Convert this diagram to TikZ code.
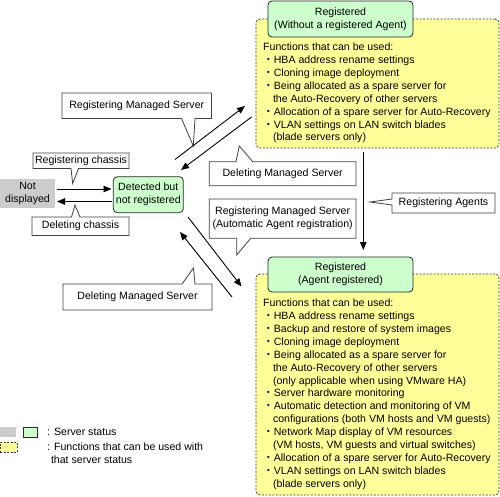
\documentclass[tikz,border=0pt]{standalone}
\usepackage{fontspec}
\setmainfont{Liberation Sans}
\newfontfamily\cjkfont{Noto Sans CJK JP}
\usetikzlibrary{arrows.meta}
\newcommand{\bul}{{\cjkfont ・}}
\newcommand{\ind}{\hspace*{9.8pt}}
\definecolor{stgreen}{RGB}{204,255,204}
\definecolor{stgray}{RGB}{204,204,204}
\definecolor{fyel}{RGB}{255,255,153}
\definecolor{cbord}{RGB}{64,64,64}
\definecolor{gbord}{RGB}{40,40,40}
\definecolor{fbord}{RGB}{60,60,60}
\begin{document}
\begin{tikzpicture}[x=1pt,y=-1pt,
  every node/.style={font=\fontsize{10.6}{12.9}\selectfont, inner sep=0pt},
  list/.style={align=left, anchor=north west},
  callshape/.style={draw=cbord, fill=white, line width=0.8pt, line join=miter},
  statebox/.style={draw=gbord, fill=stgreen, rounded corners=4pt, line width=0.8pt, align=center},
  graybox/.style={fill=stgray, align=center},
  funcbox/.style={draw=fbord, fill=fyel, rounded corners=4pt, dash pattern=on 2pt off 1.5pt, line width=0.8pt},
  flow/.style={-{Triangle[length=8pt,width=6.5pt]}, line width=0.9pt, draw=black}]
\useasboundingbox (0,0) rectangle (500,496);

% function boxes
\node[funcbox, minimum width=243, minimum height=129] (funA) at (377.5,83.5) {};
\node[funcbox, minimum width=243, minimum height=221] (funB) at (377.5,384.5) {};

% state boxes
\node[statebox, minimum width=145, minimum height=36] (regA) at (340.5,19) {Registered\\(Without a registered Agent)};
\node[statebox, minimum width=145, minimum height=35] (regB) at (340.5,274.5) {Registered\\(Agent registered)};
\node[statebox, minimum width=70, minimum height=36] (det) at (148.3,194.7) {Detected but\\not registered};
\node[graybox, minimum width=55, minimum height=29] (nd) at (27.5,193.5) {Not\\displayed};

% lists
\node[list] (lsA) at (263,42.8) {Functions that can be used:\\
\bul HBA address rename settings\\
\bul Cloning image deployment\\
\bul Being allocated as a spare server for\\
\ind the Auto-Recovery of other servers\\
\bul Allocation of a spare server for Auto-Recovery\\
\bul VLAN settings on LAN switch blades\\
\ind (blade servers only)};

\node[list] (lsB) at (263,298.8) {Functions that can be used:\\
\bul HBA address rename settings\\
\bul Backup and restore of system images\\
\bul Cloning image deployment\\
\bul Being allocated as a spare server for\\
\ind the Auto-Recovery of other servers\\
\ind (only applicable when using VMware HA)\\
\bul Server hardware monitoring\\
\bul Automatic detection and monitoring of VM\\
\ind configurations (both VM hosts and VM guests)\\
\bul Network Map display of VM resources\\
\ind (VM hosts, VM guests and virtual switches)\\
\bul Allocation of a spare server for Auto-Recovery\\
\bul VLAN settings on LAN switch blades\\
\ind (blade servers only)};

% callouts
\draw[callshape] (33,153) -- (129,153) -- (129,168.5) -- (78.5,168.5) -- (72.7,183.5) -- (71,168.5) -- (33,168.5) -- cycle;
\node (regch) at (81,160.75) {Registering chassis};

\draw[callshape] (32,217) -- (71.5,217) -- (75,205) -- (80,217) -- (129,217) -- (129,235.5) -- (32,235.5) -- cycle;
\node (delch) at (80.5,226.25) {Deleting chassis};

\draw[callshape] (62,93) -- (211.5,93) -- (211.5,118.5) -- (195,118.5) -- (193.3,146) -- (181.5,118.5) -- (62,118.5) -- cycle;
\node (regms) at (136.75,105.75) {Registering Managed Server};

\draw[callshape] (209.3,161.7) -- (236,161.7) -- (239.3,146) -- (252.7,161.7) -- (356,161.7) -- (356,185.7) -- (209.3,185.7) -- cycle;
\node (delmsA) at (282.65,173.7) {Deleting Managed Server};

\draw[callshape] (209.3,199) -- (356,199) -- (356,238.3) -- (250.7,238.3) -- (236.7,255) -- (236.7,238.3) -- (209.3,238.3) -- cycle;
\node[align=center] (regauto) at (282.65,218.65) {Registering Managed Server\\(Automatic Agent registration)};

\draw[callshape] (63,284) -- (182,284) -- (193.5,268) -- (195,284) -- (212,284) -- (212,310) -- (63,310) -- cycle;
\node (delmsB) at (137.5,297) {Deleting Managed Server};

\draw[callshape] (392,193) -- (495,193) -- (495,213) -- (392,213) -- (392,205) -- (370,202) -- (392,199) -- cycle;
\node (regag) at (443.5,203) {Registering Agents};

% arrow end points
\coordinate (a1s) at (57,189);      \coordinate (a1e) at (111.5,189);
\coordinate (a2s) at (112,201.5);   \coordinate (a2e) at (57,201.5);
\coordinate (a3s) at (175,159.5);   \coordinate (a3e) at (245,106);
\coordinate (a4s) at (251.5,117);   \coordinate (a4e) at (181,170);
\coordinate (a5s) at (188,217);     \coordinate (a5e) at (241.5,286.5);
\coordinate (a6s) at (232,297);     \coordinate (a6e) at (180,232);
\coordinate (a7s) at (363.3,152);   \coordinate (a7e) at (363.3,250);

\draw[flow] (a1s) -- (a1e);
\draw[flow] (a2s) -- (a2e);
\draw[flow] (a3s) -- (a3e);
\draw[flow] (a4s) -- (a4e);
\draw[flow] (a5s) -- (a5e);
\draw[flow] (a6s) -- (a6e);
\draw[flow] (a7s) -- (a7e);

% legend
\node[fill=stgray, minimum width=16, minimum height=10] (lg1) at (8,432) {};
\node[draw=gbord, fill=stgreen, line width=0.8pt, minimum width=14, minimum height=10] (lg2) at (30,432) {};
\node[anchor=west] (lgt1) at (47,432) {: Server status};
\node[draw=fbord, fill=fyel, dash pattern=on 2pt off 1.5pt, line width=0.8pt, minimum width=17, minimum height=10] (lg3) at (8.5,447) {};
\node[list] (lgt2) at (47,442.8) {: Functions that can be used with\\\hspace*{3.8pt}that server status};
\end{tikzpicture}
\end{document}
